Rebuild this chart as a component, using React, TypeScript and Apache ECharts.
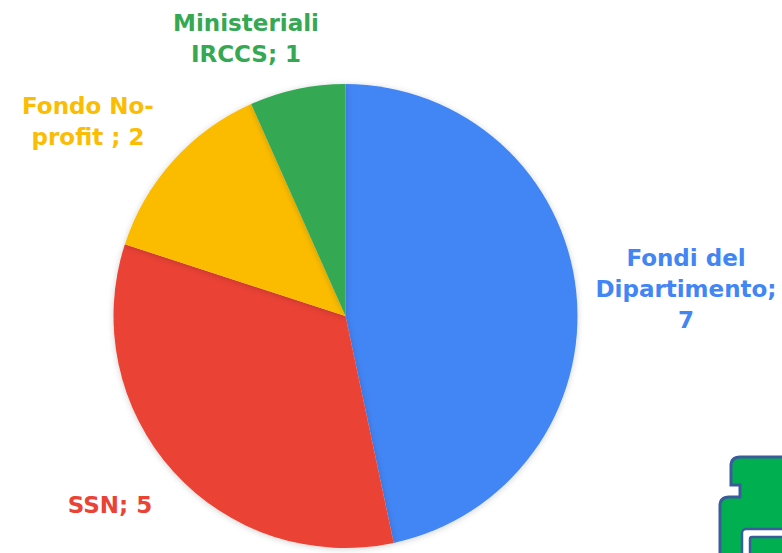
import React, { useEffect, useRef } from "react";
import * as echarts from "echarts";

const categories = ["Fondi del Dipartimento", "SSN", "Fondo No-profit", "Ministeriali IRCCS"];
const values = [7, 5, 2, 1];
const labelTexts = ["Fondi del\nDipartimento;\n7", "SSN; 5", "Fondo No-\nprofit ; 2", "Ministeriali\nIRCCS; 1"];
const colors = ["#4285F4", "#EA4335", "#FBBC04", "#34A853"];
const labelPos: [number, number][] = [
  [686, 289],
  [110, 505],
  [88, 121],
  [246, 38],
];

const LOGO_D =
  "M 740 457 Q 731 457 731 466 L 731 485 L 740 485 L 740 497 L 729 497 Q 720 497 720 506 L 720 560 L 800 560 L 800 457 Z";

let registered = false;
function ensureShape() {
  if (registered) return;
  echarts.graphic.registerShape("logo", echarts.graphic.extendPath(LOGO_D, {}));
  registered = true;
}

export default function App() {
  const ref = useRef<HTMLDivElement>(null);
  useEffect(() => {
    document.body.style.margin = "0";
    ensureShape();
    const chart = echarts.init(ref.current!, null, { renderer: "svg" });
    chart.setOption({
      animation: false,
      backgroundColor: "#ffffff",
      series: [
        {
          type: "pie",
          center: [345.5, 316],
          radius: 232,
          startAngle: 90,
          clockwise: true,
          data: categories.map((n, i) => ({
            name: n,
            value: values[i],
            itemStyle: { color: colors[i] },
            label: { color: colors[i] },
          })),
          itemStyle: {
            borderWidth: 0,
            shadowBlur: 6,
            shadowColor: "rgba(0,0,0,0.18)",
            shadowOffsetY: 1,
          },
          label: {
            show: true,
            position: "outside",
            formatter: (p: any) => labelTexts[p.dataIndex],
            fontFamily: "DejaVu Sans, sans-serif",
            fontWeight: "bold",
            fontSize: 23,
            lineHeight: 31,
            align: "center",
            overflow: "none",
            width: 300,
          },
          labelLine: { show: false },
          labelLayout: (p: any) => ({
            x: labelPos[p.dataIndex][0],
            y: labelPos[p.dataIndex][1],
            align: "center",
            verticalAlign: "middle",
          }),
          emphasis: { disabled: true },
        },
      ],
      graphic: [
        {
          type: "logo",
          x: 0,
          y: 0,
          style: { fill: "#00B050", stroke: "#3B5C9A", lineWidth: 3 },
        },
        {
          type: "rect",
          shape: { x: 742, y: 529, width: 60, height: 40, r: 4 },
          style: { fill: "#ffffff", stroke: "#3B5C9A", lineWidth: 2.5 },
        },
        {
          type: "rect",
          shape: { x: 750, y: 537, width: 60, height: 40, r: 2 },
          style: { fill: "#00B050", stroke: "#3B5C9A", lineWidth: 2.5 },
        },
      ],
    });
    return () => chart.dispose();
  }, []);
  return <div ref={ref} style={{ width: 782, height: 553, overflow: "hidden" }} />;
}
